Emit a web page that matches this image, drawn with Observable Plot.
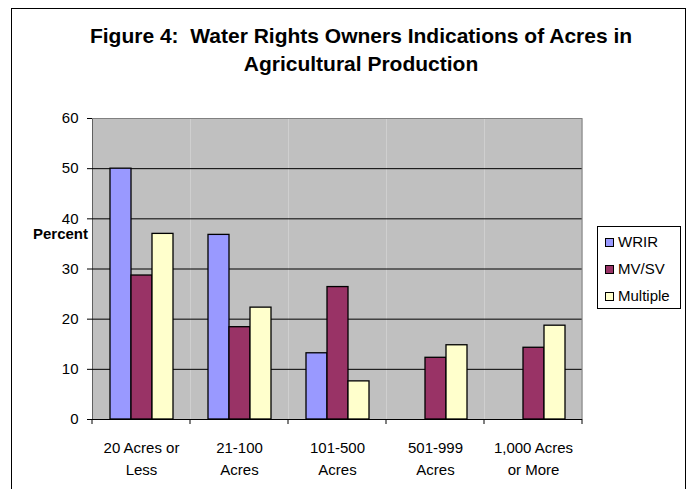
<!DOCTYPE html>
<html>
<head>
<meta charset="utf-8">
<script src="https://cdn.jsdelivr.net/npm/d3@7"></script>
<script src="https://cdn.jsdelivr.net/npm/@observablehq/plot@0.6"></script>
<style>
  html, body { margin: 0; padding: 0; background: #fff; }
  #wrap { position: relative; width: 691px; height: 489px; overflow: hidden; font-family: "Liberation Sans", Arial, sans-serif; background: #fff; }
  #border { position: absolute; left: 11px; top: 8px; width: 675px; height: 520px; border: 1px solid #000; box-sizing: border-box; }
  #title { position: absolute; left: 0; top: 22px; width: 722px; text-align: center; font-weight: bold; font-size: 21px; line-height: 28px; color: #000; }
  #ylab { position: absolute; left: 0; top: 225px; width: 88px; text-align: right; font-weight: bold; font-size: 15px; line-height: 18px; }
  #legend { position: absolute; left: 597px; top: 226px; width: 84px; height: 83px; border: 1px solid #000; box-sizing: border-box; background: #fff; }
  .item { position: absolute; left: 7px; height: 18px; line-height: 18px; font-size: 15px; white-space: nowrap; }
  .sw { display: inline-block; width: 9px; height: 9px; border: 1px solid #000; box-sizing: border-box; margin-right: 4px; vertical-align: 0px; }
  #chart { position: absolute; left: 0; top: 0; }
</style>
</head>
<body>
<div id="wrap">
  <div id="border"></div>
  <div id="chart"></div>
  <div id="title">Figure 4:&nbsp; Water Rights Owners Indications of Acres in<br>Agricultural Production</div>
  <div id="ylab">Percent</div>
  <div id="legend"></div>
</div>
<script>
const categories = ["20 Acres or\nLess", "21-100\nAcres", "101-500\nAcres", "501-999\nAcres", "1,000 Acres\nor More"];
const seriesNames = ["WRIR", "MV/SV", "Multiple"];
const wrir = [50, 36.8, 13.2, null, null];
const mvsv = [28.7, 18.4, 26.4, 12.3, 14.3];
const multiple = [37.0, 22.3, 7.6, 14.8, 18.7];
const yTicks = [0, 10, 20, 30, 40, 50, 60];
const colors = ["#9999FF", "#993366", "#FFFFCC"];

const seriesValues = [wrir, mvsv, multiple];
const rows = [];
categories.forEach((c, i) => {
  seriesNames.forEach((s, j) => {
    const v = seriesValues[j][i];
    if (v != null) rows.push({category: c, series: s, value: v});
  });
});

const plot = Plot.plot({
  width: 691,
  height: 489,
  marginLeft: 90,
  marginRight: 107,
  marginTop: 118,
  marginBottom: 70,
  style: {fontFamily: "'Liberation Sans', Arial, sans-serif", fontSize: "15px", background: "transparent", color: "#000"},
  fx: {domain: categories, padding: 0, axis: null},
  x: {domain: seriesNames, paddingInner: 0, paddingOuter: 0.776, axis: null},
  y: {domain: [0, 60], ticks: yTicks, tickSize: 5, tickPadding: 9, line: true, label: null},
  color: {domain: seriesNames, range: colors},
  marks: [
    Plot.frame({fill: "#C0C0C0", stroke: null}),
    Plot.ruleY([10, 20, 30, 40, 50], {stroke: "#000", strokeWidth: 1}),
    Plot.ruleY([60], {stroke: "#808080", strokeWidth: 1}),
    Plot.barY(rows, {fx: "category", x: "series", y: "value", fill: "series", stroke: "#000", strokeWidth: 1.3}),
    Plot.ruleY([0], {stroke: "#000", strokeWidth: 1}),
    Plot.text(categories, {fx: d => d, text: d => d, frameAnchor: "bottom", lineAnchor: "top", dy: 18, lineHeight: 1.47, fontSize: 15, fill: "#000"})
  ]
});
document.getElementById("chart").appendChild(plot);

// category boundary ticks and right border, from Plot's own scales
try {
  const fx = plot.scale("fx");
  const y = plot.scale("y");
  const svg = d3.select(plot);
  const y0 = y.apply(0), y60 = y.apply(60);
  const bw = fx.bandwidth;
  const bounds = categories.map(c => fx.apply(c));
  bounds.push(fx.apply(categories[categories.length - 1]) + bw);
  svg.append("g").selectAll("line").data(bounds).join("line")
    .attr("x1", d => d).attr("x2", d => d)
    .attr("y1", y0).attr("y2", y0 + 5)
    .attr("stroke", "#000");
  const xr = bounds[bounds.length - 1];
  svg.append("line").attr("x1", xr).attr("x2", xr).attr("y1", y60).attr("y2", y0).attr("stroke", "#808080");
} catch (e) { console.error(e); }

// legend
const legend = document.getElementById("legend");
seriesNames.forEach((s, i) => {
  const it = document.createElement("div");
  it.className = "item";
  it.style.top = (6 + i * 27) + "px";
  it.innerHTML = `<span class="sw" style="background:${colors[i]}"></span>${s}`;
  legend.appendChild(it);
});
</script>
</body>
</html>
